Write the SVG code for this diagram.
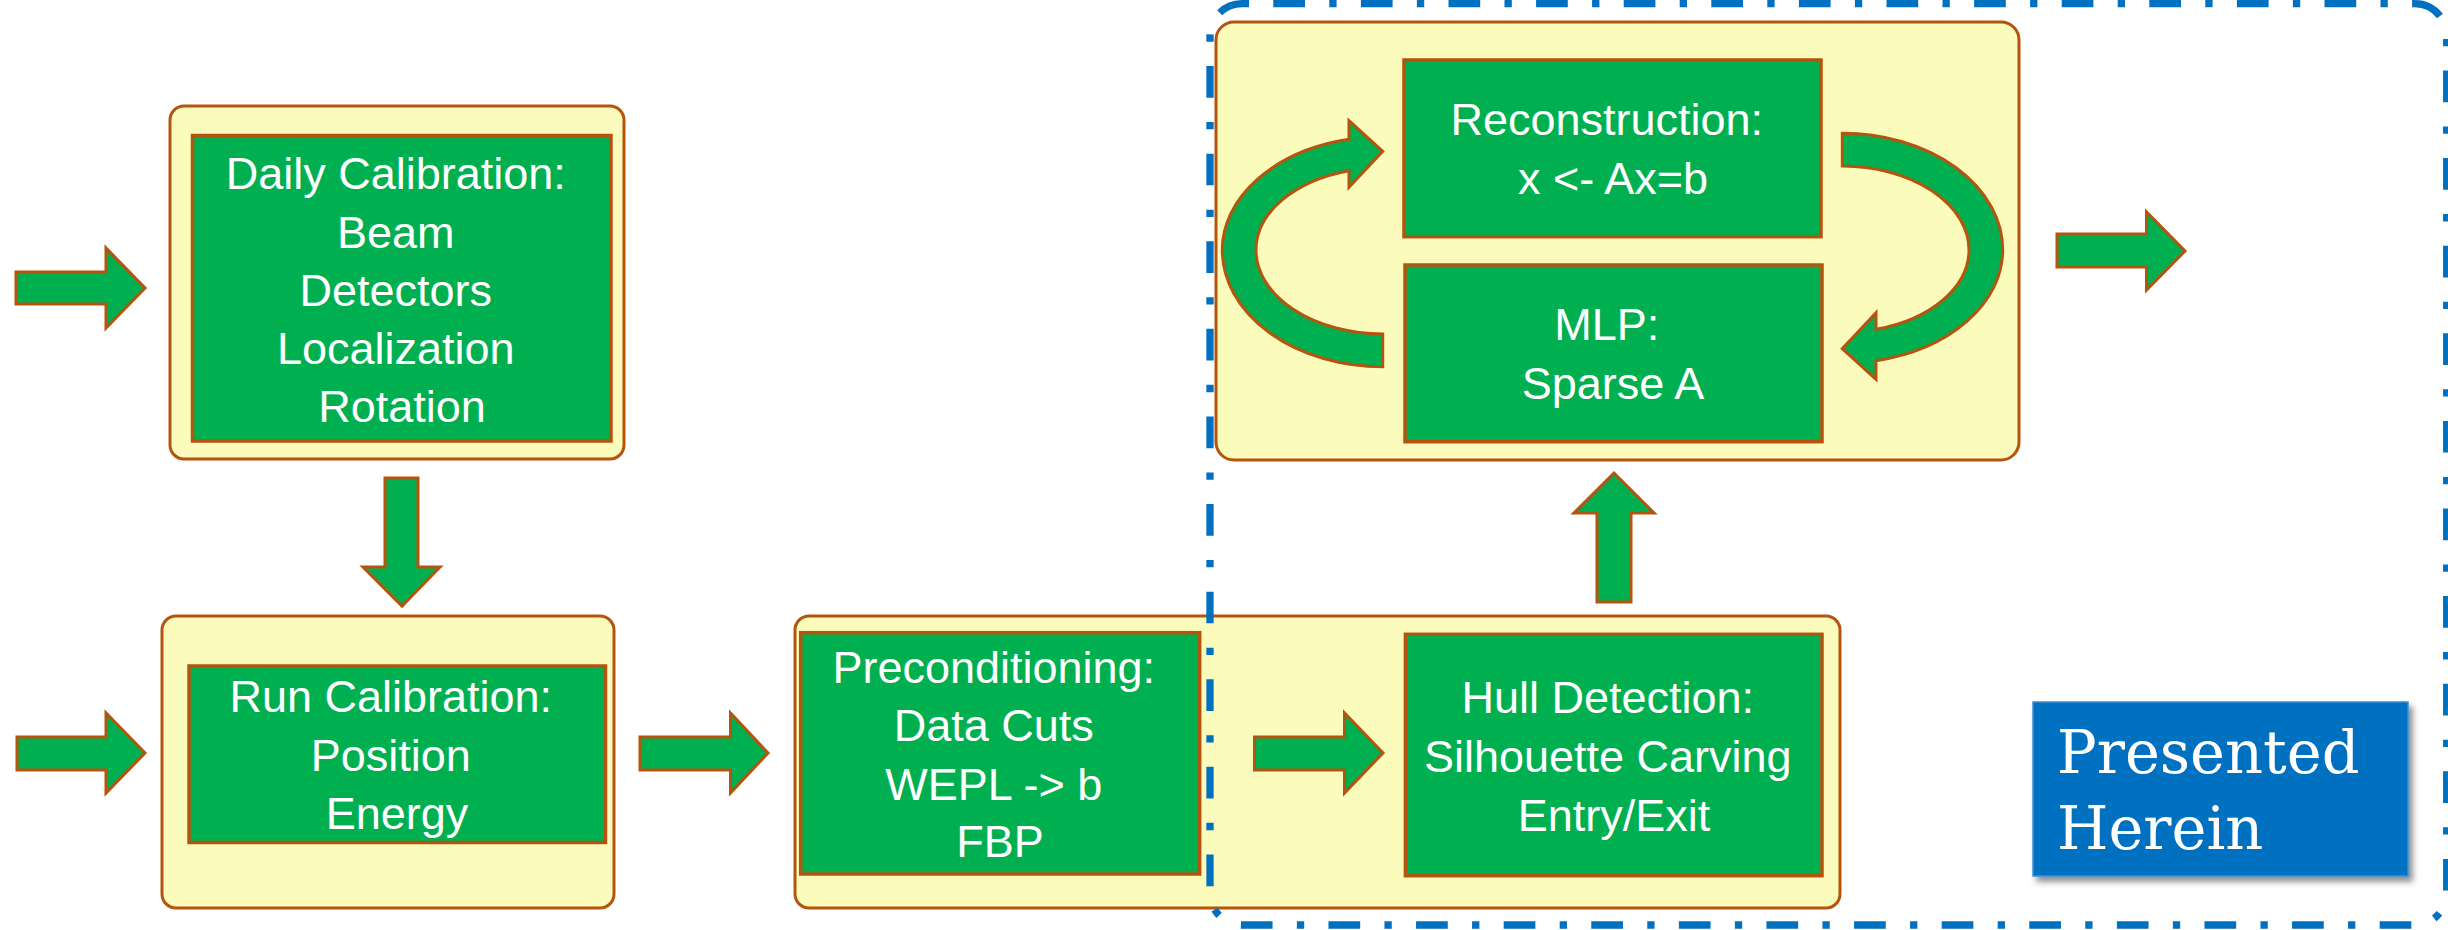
<svg xmlns="http://www.w3.org/2000/svg" width="2448" height="930" viewBox="0 0 2448 930">
  <style>
    .panel { fill: #FBFBBB; stroke: #B4540F; stroke-width: 3; }
    .step { fill: #00B050; stroke: #B4540F; stroke-width: 3.5; }
    .arrow { fill: #00B050; stroke: #B4540F; stroke-width: 3; stroke-linejoin: miter; }
    .label { font-family: "Liberation Sans", Arial, sans-serif; font-size: 45px; fill: #FFFFFF; text-anchor: middle; }
    .scope { fill: none; stroke: #0070C0; stroke-width: 7.3; stroke-dasharray: 31.7 24.3 7.3 24.3; stroke-dashoffset: 56.3; }
    .note { fill: #0070C0; stroke: #3F8FD0; stroke-width: 1.5; }
    .note-text { font-family: "DejaVu Serif", "Liberation Serif", serif; font-size: 59px; fill: #FFFFFF; }
  </style>
  <defs>
    <filter id="shadow" x="-10%" y="-10%" width="125%" height="130%">
      <feDropShadow dx="4" dy="5" stdDeviation="3" flood-color="#000000" flood-opacity="0.45"/>
    </filter>
  </defs>

  <rect width="2448" height="930" fill="#FFFFFF"/>

  <!-- Daily calibration -->
  <g id="daily-calibration">
    <rect class="panel" x="170" y="106" width="454" height="353" rx="14"/>
    <rect class="step" x="192.5" y="135.5" width="418.5" height="305.5"/>
    <text class="label">
      <tspan x="402" y="189">Daily Calibration:</tspan>
      <tspan x="402" y="248">Beam</tspan>
      <tspan x="402" y="306">Detectors</tspan>
      <tspan x="402" y="364">Localization</tspan>
      <tspan x="402" y="422">Rotation</tspan>
    </text>
  </g>

  <!-- Run calibration -->
  <g id="run-calibration">
    <rect class="panel" x="162" y="616" width="452" height="292" rx="14"/>
    <rect class="step" x="189" y="666" width="416.5" height="176.5"/>
    <text class="label">
      <tspan x="397" y="712">Run Calibration:</tspan>
      <tspan x="397" y="771">Position</tspan>
      <tspan x="397" y="829">Energy</tspan>
    </text>
  </g>

  <!-- Preconditioning and hull detection share one panel -->
  <g id="preprocessing-panel">
    <rect class="panel" x="795" y="616" width="1045" height="292" rx="14"/>
  </g>
  <g id="preconditioning">
    <rect class="step" x="800.7" y="632.7" width="399" height="241.3"/>
    <text class="label">
      <tspan x="1000" y="683">Preconditioning:</tspan>
      <tspan x="1000" y="741">Data Cuts</tspan>
      <tspan x="1000" y="800">WEPL -&gt; b</tspan>
      <tspan x="1000" y="857">FBP</tspan>
    </text>
  </g>
  <g id="hull-detection">
    <rect class="step" x="1405.4" y="634.3" width="416.6" height="241.4"/>
    <text class="label">
      <tspan x="1614" y="713">Hull Detection:</tspan>
      <tspan x="1614" y="772">Silhouette Carving</tspan>
      <tspan x="1614" y="831">Entry/Exit</tspan>
    </text>
  </g>

  <!-- Iterative reconstruction loop -->
  <g id="reconstruction-panel">
    <rect class="panel" x="1216" y="22" width="803" height="438" rx="18"/>
  </g>
  <g id="reconstruction">
    <rect class="step" x="1404" y="60" width="417" height="176.7"/>
    <text class="label">
      <tspan x="1613" y="135">Reconstruction:</tspan>
      <tspan x="1613" y="194">x &lt;- Ax=b</tspan>
    </text>
  </g>
  <g id="mlp">
    <rect class="step" x="1405" y="265" width="417" height="176.7"/>
    <text class="label">
      <tspan x="1613" y="340">MLP:</tspan>
      <tspan x="1613" y="399">Sparse A</tspan>
    </text>
  </g>

  <!-- Connectors: block arrows -->
  <g id="connectors">
    <polygon class="arrow" points="16,272 106,272 106,248 145,288 106,328 106,304 16,304"/>
    <polygon class="arrow" points="17,737 106,737 106,713 145,753 106,793 106,770 17,770"/>
    <polygon class="arrow" points="385,478 418,478 418,567 440,567 402,606 363,567 385,567"/>
    <polygon class="arrow" points="640,737 730.5,737 730.5,713 768,753 730.5,793 730.5,770 640,770"/>
    <polygon class="arrow" points="1254.5,737 1344.5,737 1344.5,713 1383,753 1344.5,793 1344.5,770 1254.5,770"/>
    <polygon class="arrow" points="1597,602 1631,602 1631,513 1654,513 1614,473 1574,513 1597,513"/>
    <polygon class="arrow" points="2057,234 2146.5,234 2146.5,212 2185,251 2146.5,290 2146.5,267 2057,267"/>
    <!-- loop: MLP back up to reconstruction -->
    <path class="arrow" d="M1382.7,366.7 A160.4,116.7 0 0 1 1222.3,250 A160.4,113.2 0 0 1 1349,139.3 L1349,120.7 L1382.7,151.3 L1349,187.3 L1349,170.7 A127,82.3 0 0 0 1256,250 A127,84 0 0 0 1382.7,334 Z"/>
    <!-- loop: reconstruction down to MLP -->
    <path class="arrow" d="M1842.3,133.3 A160.4,116.7 0 0 1 2002.7,250 A160.4,113.2 0 0 1 1876,360.7 L1876,379.3 L1842.3,348.7 L1876,312.7 L1876,329.3 A127,82.3 0 0 0 1969,250 A127,84 0 0 0 1842.3,166 Z"/>
  </g>

  <!-- Scope outline -->
  <g id="scope">
    <rect class="scope" x="1210" y="3.7" width="1236.7" height="921.3" rx="32"/>
  </g>

  <!-- Scope label -->
  <g id="presented-herein">
    <rect class="note" x="2033" y="702" width="375" height="174" filter="url(#shadow)"/>
    <text class="note-text">
      <tspan x="2057" y="773">Presented</tspan>
      <tspan x="2057" y="849">Herein</tspan>
    </text>
  </g>
</svg>
